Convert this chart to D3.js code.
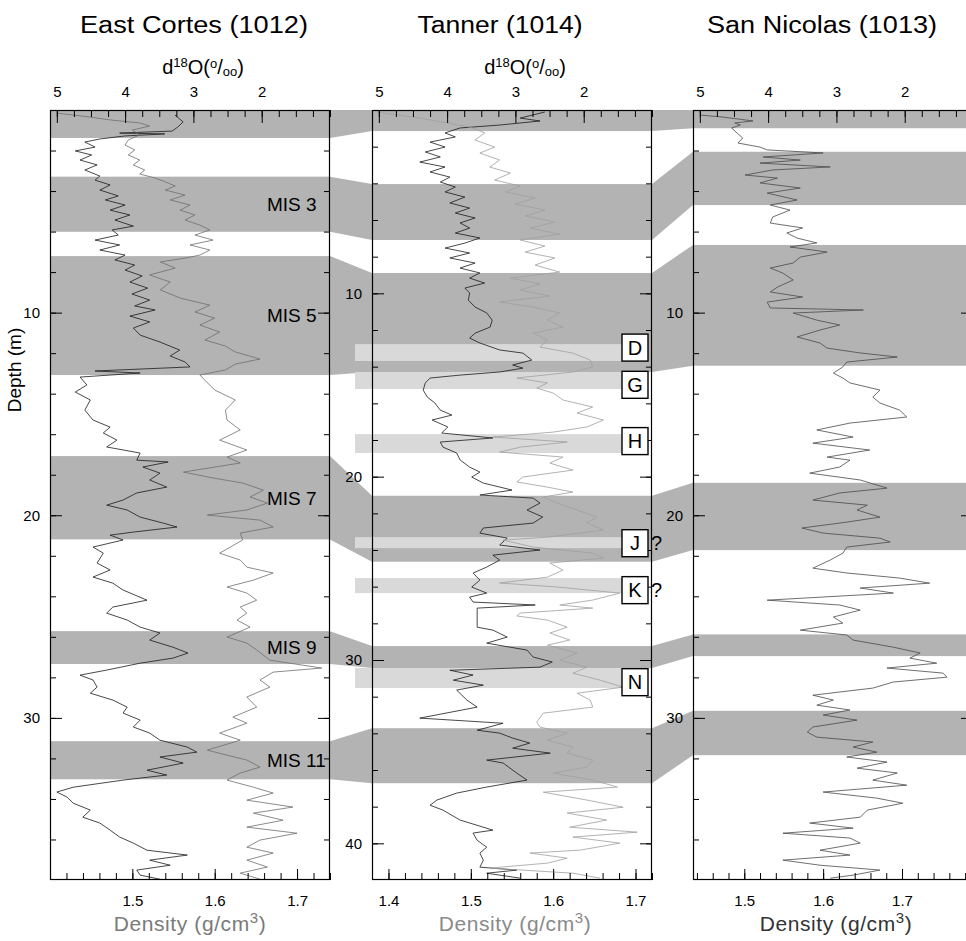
<!DOCTYPE html>
<html>
<head>
<meta charset="utf-8">
<script src="https://cdn.jsdelivr.net/npm/d3@7"></script>
<style>
  body { margin: 0; background: #fff; }
  svg { display: block; }
  text { font-family: "Liberation Sans", Arial, sans-serif; }
</style>
</head>
<body>
<svg id="chart" width="966" height="941"></svg>
<script>
// ---- data ----
const titles = ['East Cortes (1012)', 'Tanner (1014)', 'San Nicolas (1013)'];
const o18Ticks = [5, 4, 3, 2];
const ecDensityTicks = [1.5, 1.6, 1.7];
const tnDensityTicks = [1.4, 1.5, 1.6, 1.7];
const snDensityTicks = [1.5, 1.6, 1.7];
const ecDepthTicks = [10, 20, 30];
const tnDepthTicks = [10, 20, 30, 40];
const snDepthTicks = [10, 20, 30];

// shaded stage intervals, depth (m) top/bottom
const ecBands = [[0, 1.38], [3.29, 6.01], [7.21, 13.08], [17.08, 21.19], [25.72, 27.34], [31.15, 33.03]];
const tnBands = [[0, 1.15], [4.04, 7.09], [8.89, 14.29], [21.04, 24.64], [29.24, 30.44], [33.72, 36.72]];
const snBands = [[0, 0.90], [2.06, 4.69], [6.66, 12.62], [18.40, 21.72], [25.88, 26.95], [29.65, 31.84]];
const misLabels = ['', 'MIS 3', 'MIS 5', 'MIS 7', 'MIS 9', 'MIS 11'];

// Tanner event layers
const eventNames = ['D', 'G', 'H', 'J', 'K', 'N'];
const eventBands = [[12.77, 13.69], [14.29, 15.22], [17.68, 18.71], [23.30, 23.90], [25.53, 26.35], [30.44, 31.53]];
const eventLabelDepth = [12.96, 14.99, 18.06, 23.63, 26.19, 31.21];
const eventQuery = ['', '', '', '?', '?', ''];

// [depth m, d18O permil]
const ecO18 = [[0.25,3.27],[0.59,3.15],[0.84,3.23],[1.04,3.31],[1.14,4.08],[1.18,3.42],[1.28,4.00],[1.43,4.37],[1.58,4.59],[1.83,4.44],[2.02,4.73],[2.22,4.49],[2.47,4.66],[2.71,4.41],[2.96,4.59],[3.26,4.37],[3.46,4.44],[3.70,4.22],[3.95,4.37],[4.24,4.10],[4.44,4.29],[4.69,4.00],[4.94,4.22],[5.18,3.93],[5.43,4.15],[5.73,3.88],[5.92,4.19],[6.17,4.10],[6.42,4.44],[6.66,4.08],[6.91,4.37],[7.16,4.00],[7.40,4.15],[7.65,3.86],[7.90,4.00],[8.19,3.75],[8.49,3.93],[8.79,3.67],[9.08,3.90],[9.38,3.64],[9.67,3.86],[9.87,3.56],[10.17,3.93],[10.46,3.64],[10.76,3.88],[11.11,3.78],[11.45,3.49],[11.85,3.20],[12.14,3.34],[12.44,3.12],[12.68,3.05],[12.88,4.44],[12.98,3.78],[13.18,4.66],[13.57,4.56],[13.92,4.73],[14.31,4.51],[14.81,4.59],[15.30,4.47],[15.65,4.22],[15.94,4.32],[16.29,4.12],[16.63,4.27],[16.93,3.78],[17.28,3.83],[17.37,3.37],[17.62,3.74],[17.92,3.49],[18.26,3.64],[18.61,3.39],[18.90,3.83],[19.25,4.03],[19.50,4.27],[19.74,3.97],[20.09,3.78],[20.38,3.45],[20.58,3.24],[20.83,3.88],[20.98,4.22],[21.22,4.03],[21.57,4.47],[21.87,4.32],[22.36,4.41],[22.70,4.22],[23.05,4.47],[23.35,4.18],[23.69,4.03],[24.19,3.68],[24.53,4.18],[24.83,4.27],[25.17,3.97],[25.52,3.78],[25.81,3.49],[26.16,3.64],[26.51,3.30],[26.80,3.08],[27.05,3.30],[27.30,3.78],[27.64,4.27],[27.89,4.66],[28.13,4.47],[28.48,4.41],[28.78,4.51],[29.12,4.18],[29.47,3.97],[29.76,4.03],[30.11,3.78],[30.45,3.88],[30.75,3.64],[31.10,3.49],[31.44,3.09],[31.69,2.95],[31.93,3.49],[32.23,3.15],[32.58,3.68],[32.82,3.39],[33.07,4.03],[33.42,4.76],[33.66,5.00],[33.91,4.85],[34.21,4.76],[34.55,4.51],[34.90,4.62],[35.19,4.37],[35.54,4.22],[35.88,4.08],[36.18,3.88],[36.53,3.68],[36.77,3.09],[37.02,3.64],[37.27,3.34],[37.51,3.83],[37.76,3.78],[37.96,3.49]];

// [depth m, density g/cm3]
const ecDensity = [[0.15,1.408],[0.35,1.449],[0.49,1.473],[0.64,1.509],[0.79,1.521],[0.99,1.500],[1.23,1.509],[1.48,1.495],[1.73,1.491],[1.97,1.503],[2.22,1.495],[2.47,1.509],[2.71,1.501],[2.96,1.515],[3.16,1.509],[3.36,1.528],[3.55,1.540],[3.75,1.552],[3.95,1.540],[4.20,1.564],[4.44,1.546],[4.69,1.570],[4.94,1.558],[5.18,1.576],[5.43,1.564],[5.68,1.582],[5.92,1.594],[6.17,1.576],[6.42,1.598],[6.66,1.570],[6.91,1.594],[7.16,1.582],[7.31,1.564],[7.50,1.534],[7.80,1.552],[8.14,1.521],[8.49,1.546],[8.88,1.534],[9.28,1.558],[9.63,1.594],[9.97,1.576],[10.27,1.600],[10.61,1.582],[10.96,1.606],[11.35,1.588],[11.65,1.613],[11.94,1.625],[12.29,1.655],[12.54,1.625],[12.83,1.613],[13.08,1.582],[13.33,1.588],[13.82,1.600],[14.31,1.625],[14.81,1.613],[15.30,1.615],[15.79,1.631],[16.29,1.606],[16.78,1.639],[17.13,1.615],[17.42,1.631],[17.87,1.562],[18.16,1.598],[18.41,1.634],[18.76,1.659],[19.10,1.643],[19.40,1.664],[19.74,1.639],[19.99,1.591],[20.24,1.655],[20.58,1.671],[20.88,1.631],[21.22,1.634],[21.57,1.619],[21.87,1.606],[22.21,1.631],[22.56,1.639],[22.85,1.671],[23.20,1.647],[23.54,1.615],[23.84,1.639],[24.19,1.651],[24.53,1.631],[24.83,1.639],[25.17,1.627],[25.52,1.643],[26.01,1.615],[26.31,1.639],[26.65,1.651],[27.15,1.667],[27.54,1.730],[27.74,1.671],[28.13,1.655],[28.48,1.667],[28.97,1.639],[29.47,1.651],[29.96,1.622],[30.26,1.639],[30.75,1.606],[31.10,1.631],[31.59,1.591],[31.84,1.615],[32.08,1.639],[32.43,1.655],[32.72,1.631],[33.07,1.615],[33.42,1.647],[33.71,1.671],[34.06,1.639],[34.40,1.695],[34.70,1.647],[35.05,1.683],[35.39,1.639],[35.69,1.700],[36.03,1.655],[36.38,1.639],[36.67,1.671],[37.02,1.639],[37.36,1.664],[37.66,1.631],[37.96,1.655]];

const tnO18 = [[0.11,2.57],[0.44,2.93],[0.60,2.64],[0.82,3.23],[0.98,3.81],[1.25,4.03],[1.47,3.88],[1.75,4.25],[2.02,4.03],[2.29,4.32],[2.56,4.10],[2.84,4.40],[3.11,4.03],[3.38,4.25],[3.66,3.96],[3.93,4.10],[4.20,3.88],[4.47,4.03],[4.75,3.74],[5.07,3.96],[5.35,3.67],[5.62,3.88],[5.89,3.59],[6.16,3.81],[6.44,3.67],[6.71,3.88],[6.98,3.52],[7.26,3.74],[7.53,4.03],[7.80,3.67],[8.07,3.96],[8.35,3.59],[8.62,3.81],[8.89,3.52],[9.17,3.67],[9.44,3.45],[9.71,3.74],[9.98,3.67],[10.37,3.69],[10.75,3.59],[11.07,3.42],[11.46,3.34],[11.84,3.37],[12.17,3.59],[12.44,3.67],[12.71,3.52],[13.09,3.23],[13.26,2.89],[13.64,2.76],[13.91,3.04],[14.08,2.89],[14.29,3.23],[14.46,3.81],[14.62,4.25],[14.89,4.32],[15.28,4.35],[15.66,4.29],[15.98,4.18],[16.37,4.10],[16.64,3.93],[16.91,4.22],[17.29,3.99],[17.62,4.08],[17.89,3.33],[18.11,4.10],[18.39,4.06],[18.71,3.86],[19.09,3.81],[19.48,3.67],[19.75,3.52],[20.02,3.64],[20.35,3.47],[20.73,3.05],[21.00,3.52],[21.17,2.74],[21.44,2.64],[21.82,2.83],[22.20,2.60],[22.53,2.74],[22.80,3.47],[23.08,3.52],[23.35,3.12],[23.73,3.23],[24.00,2.64],[24.28,3.33],[24.55,3.23],[24.93,3.42],[25.26,3.62],[25.64,3.52],[26.02,3.64],[26.35,3.42],[26.57,3.67],[26.84,3.62],[27.00,2.71],[27.17,3.56],[28.21,3.56],[28.37,3.33],[28.75,3.12],[29.08,3.42],[29.46,2.83],[29.84,2.74],[30.11,2.46],[30.39,2.64],[30.56,3.96],[30.82,3.62],[31.10,3.91],[31.37,3.47],[31.64,3.86],[32.19,3.71],[32.57,3.56],[33.17,4.40],[33.45,3.18],[33.83,3.56],[33.99,3.23],[34.26,3.04],[34.53,2.79],[34.81,3.04],[35.08,2.49],[35.46,3.42],[35.62,3.18],[36.17,2.98],[36.55,2.83],[36.93,3.42],[37.26,3.86],[37.64,4.15],[37.92,4.25],[38.19,4.06],[38.73,3.81],[39.28,3.33],[39.44,3.62],[39.83,3.56],[40.21,3.42],[40.53,3.52],[40.92,3.47],[41.30,3.52],[41.46,2.98],[41.63,3.42],[41.90,2.93]];

const tnDensity = [[0.11,1.386],[0.44,1.438],[0.93,1.499],[1.25,1.517],[1.64,1.505],[2.02,1.529],[2.35,1.511],[2.73,1.535],[3.11,1.523],[3.44,1.548],[3.82,1.529],[4.15,1.560],[4.47,1.542],[4.80,1.578],[5.13,1.554],[5.46,1.590],[5.78,1.566],[6.11,1.602],[6.44,1.572],[6.77,1.608],[7.09,1.560],[7.42,1.590],[7.75,1.566],[8.07,1.602],[8.46,1.578],[8.84,1.608],[9.17,1.548],[9.49,1.584],[9.82,1.560],[10.15,1.596],[10.47,1.535],[10.75,1.576],[11.07,1.608],[11.46,1.593],[11.84,1.612],[12.17,1.576],[12.55,1.593],[12.93,1.584],[13.26,1.624],[13.64,1.645],[14.02,1.648],[14.29,1.624],[14.62,1.556],[14.89,1.593],[15.17,1.580],[15.44,1.600],[15.82,1.612],[16.20,1.648],[16.53,1.629],[16.91,1.661],[17.29,1.641],[17.57,1.600],[17.84,1.527],[18.11,1.617],[18.39,1.560],[18.66,1.535],[18.93,1.612],[19.26,1.596],[19.64,1.624],[20.02,1.563],[20.29,1.556],[20.57,1.593],[20.84,1.624],[21.11,1.588],[21.44,1.605],[21.82,1.629],[22.20,1.653],[22.53,1.641],[22.91,1.661],[23.30,1.593],[23.46,1.539],[23.84,1.576],[24.17,1.648],[24.44,1.661],[24.71,1.596],[25.10,1.612],[25.48,1.593],[25.80,1.535],[26.02,1.605],[26.35,1.681],[26.73,1.648],[27.00,1.608],[27.17,1.648],[27.44,1.560],[27.60,1.556],[27.82,1.593],[28.21,1.617],[28.53,1.596],[28.91,1.620],[29.19,1.593],[29.62,1.629],[30.01,1.608],[30.39,1.641],[30.72,1.624],[31.10,1.657],[31.48,1.685],[31.81,1.629],[32.19,1.645],[32.57,1.648],[32.90,1.588],[33.39,1.580],[33.66,1.584],[33.99,1.617],[34.37,1.593],[34.75,1.624],[35.08,1.617],[35.46,1.648],[35.84,1.641],[36.17,1.600],[36.55,1.648],[36.93,1.678],[37.21,1.588],[37.64,1.641],[38.03,1.685],[38.35,1.617],[38.73,1.665],[39.12,1.620],[39.39,1.702],[39.66,1.624],[39.99,1.681],[40.37,1.633],[40.53,1.572],[40.81,1.617],[41.08,1.593],[41.35,1.523],[41.63,1.624],[41.90,1.657]];

const snDensity = [[0.25,1.444],[0.35,1.473],[0.54,1.511],[0.64,1.488],[0.74,1.495],[0.89,1.484],[1.14,1.491],[1.38,1.498],[1.63,1.492],[1.83,1.520],[1.97,1.529],[2.12,1.600],[2.32,1.524],[2.47,1.571],[2.62,1.520],[2.81,1.609],[2.96,1.536],[3.21,1.501],[3.36,1.542],[3.60,1.520],[3.85,1.571],[4.10,1.529],[4.44,1.567],[4.69,1.533],[4.94,1.558],[5.28,1.536],[5.58,1.533],[5.82,1.574],[6.07,1.554],[6.32,1.567],[6.56,1.592],[6.76,1.558],[7.01,1.605],[7.26,1.571],[7.55,1.562],[7.80,1.533],[8.05,1.549],[8.39,1.562],[8.74,1.542],[8.98,1.533],[9.23,1.574],[9.48,1.529],[9.77,1.533],[9.87,1.651],[10.02,1.562],[10.37,1.592],[10.61,1.621],[10.86,1.596],[11.20,1.567],[11.50,1.596],[11.75,1.605],[11.99,1.647],[12.19,1.694],[12.44,1.630],[12.68,1.625],[12.98,1.613],[13.23,1.625],[13.47,1.634],[13.82,1.672],[14.17,1.663],[14.46,1.672],[14.81,1.697],[15.15,1.706],[15.45,1.634],[15.79,1.592],[16.14,1.638],[16.44,1.587],[16.78,1.659],[17.13,1.605],[17.28,1.634],[17.62,1.621],[17.92,1.583],[18.26,1.647],[18.66,1.681],[18.90,1.621],[19.25,1.587],[19.50,1.656],[19.74,1.643],[20.09,1.672],[20.34,1.630],[20.63,1.573],[20.88,1.600],[21.13,1.672],[21.32,1.685],[21.57,1.630],[21.87,1.625],[22.21,1.609],[22.61,1.587],[22.85,1.630],[23.10,1.697],[23.35,1.735],[23.59,1.647],[23.84,1.689],[24.19,1.529],[24.43,1.621],[24.68,1.647],[25.02,1.613],[25.32,1.625],[25.67,1.571],[25.91,1.630],[26.16,1.638],[26.51,1.689],[26.80,1.723],[27.05,1.710],[27.30,1.744],[27.54,1.681],[27.79,1.752],[27.99,1.757],[28.23,1.689],[28.53,1.663],[28.88,1.587],[29.12,1.613],[29.37,1.592],[29.61,1.634],[29.86,1.600],[30.11,1.643],[30.45,1.587],[30.70,1.580],[30.95,1.592],[31.19,1.663],[31.44,1.638],[31.69,1.668],[31.93,1.630],[32.18,1.681],[32.48,1.643],[32.72,1.694],[33.07,1.663],[33.32,1.706],[33.66,1.600],[33.96,1.668],[34.21,1.701],[34.55,1.656],[34.90,1.647],[35.19,1.583],[35.44,1.638],[35.69,1.549],[35.93,1.634],[36.18,1.647],[36.53,1.596],[36.77,1.634],[37.02,1.549],[37.27,1.596],[37.51,1.672],[37.76,1.638],[37.91,1.609]];

// ---- layout ----
var svg = d3.select('#chart');
var plotTop = 110, plotBottom = 880, pw = 280;
var bandColor = '#b3b3b3', eventColor = '#d9d9d9';

var panels = [
  { x0: 50, depthMax: 38, denDomain: [1.4, 1.74], denTicks: ecDensityTicks, depthTicks: ecDepthTicks,
    bands: ecBands, o18: ecO18, den: ecDensity, o18Color: '#1a1a1a', denColor: '#6e6e6e',
    titleX: 194, titleW: 228, labelColor: '#7a7a7a', showO18Label: true, denLabelX: 190 },
  { x0: 372, depthMax: 42, denDomain: [1.38, 1.72], denTicks: tnDensityTicks, depthTicks: tnDepthTicks,
    bands: tnBands, o18: tnO18, den: tnDensity, o18Color: '#1a1a1a', denColor: '#a0a0a0',
    titleX: 500, titleW: 165, labelColor: '#8a8a8a', showO18Label: true, denLabelX: 515 },
  { x0: 693, depthMax: 38, denDomain: [1.435, 1.79], denTicks: snDensityTicks, depthTicks: snDepthTicks,
    bands: snBands, o18: null, den: snDensity, o18Color: '#1a1a1a', denColor: '#4a4a4a',
    titleX: 822, titleW: 230, labelColor: '#333', showO18Label: false, denLabelX: 836 }
];

panels.forEach(function(p) {
  p.y = d3.scaleLinear().domain([0, p.depthMax]).range([plotTop, plotBottom]);
  p.xo = d3.scaleLinear().domain([5.1, 1.0]).range([p.x0, p.x0 + pw]);
  p.xd = d3.scaleLinear().domain(p.denDomain).range([p.x0, p.x0 + pw]);
});

// connectors between neighbouring cores
function connect(pa, pb) {
  pa.bands.forEach(function(b, i) {
    var c = pb.bands[i];
    var pts = [[pa.x0 + pw, pa.y(b[0])], [pb.x0, pb.y(c[0])], [pb.x0, pb.y(c[1])], [pa.x0 + pw, pa.y(b[1])]];
    svg.append('path').attr('d', d3.line()(pts) + 'Z').attr('fill', bandColor);
  });
}
connect(panels[0], panels[1]);
connect(panels[1], panels[2]);

// shaded bands inside each panel
panels.forEach(function(p) {
  svg.append('g').selectAll('rect').data(p.bands).enter().append('rect')
    .attr('x', p.x0).attr('width', pw)
    .attr('y', function(d) { return p.y(d[0]); })
    .attr('height', function(d) { return p.y(d[1]) - p.y(d[0]); })
    .attr('fill', bandColor);
});

// Tanner event layers (lighter)
var tn = panels[1];
svg.append('g').selectAll('rect').data(eventBands).enter().append('rect')
  .attr('x', tn.x0 - 17).attr('width', 267)
  .attr('y', function(d) { return tn.y(d[0]); })
  .attr('height', function(d) { return tn.y(d[1]) - tn.y(d[0]); })
  .attr('fill', eventColor);

// curves
panels.forEach(function(p, i) {
  svg.append('clipPath').attr('id', 'clip' + i).append('rect')
    .attr('x', p.x0).attr('y', plotTop).attr('width', pw).attr('height', plotBottom - plotTop);
  var g = svg.append('g').attr('clip-path', 'url(#clip' + i + ')');
  if (p.o18) {
    g.append('path').datum(p.o18)
      .attr('d', d3.line().x(function(d) { return p.xo(d[1]); }).y(function(d) { return p.y(d[0]); }))
      .attr('fill', 'none').attr('stroke', p.o18Color).attr('stroke-width', 0.8);
  }
  g.append('path').datum(p.den)
    .attr('d', d3.line().x(function(d) { return p.xd(d[1]); }).y(function(d) { return p.y(d[0]); }))
    .attr('fill', 'none').attr('stroke', p.denColor).attr('stroke-width', 0.8);
});

function styleAxis(sel) {
  sel.select('.domain').remove();
  sel.selectAll('line').attr('stroke', '#000');
  sel.selectAll('text').attr('fill', '#000').style('font-size', '15px')
    .style('font-family', '"Liberation Sans", Arial, sans-serif');
}

// frames and axes
panels.forEach(function(p, i) {
  var g = svg.append('g');
  var x1 = p.x0 + pw;
  var minorO18 = d3.range(1.0, 5.01, 0.25);
  var minorDen = d3.range(Math.ceil(p.denDomain[0] * 50) / 50, p.denDomain[1], 0.02);
  var minorDepth = d3.range(2, p.depthMax, 2);

  g.append('g').attr('transform', 'translate(0,' + plotTop + ')')
    .call(d3.axisTop(p.xo).tickValues(minorO18).tickSize(-7).tickFormat(''))
    .call(styleAxis);
  g.append('g').attr('transform', 'translate(0,' + plotTop + ')')
    .call(d3.axisTop(p.xo).tickValues(o18Ticks).tickSize(-13).tickPadding(13).tickFormat(d3.format('d')))
    .call(styleAxis);

  g.append('g').attr('transform', 'translate(0,' + plotBottom + ')')
    .call(d3.axisBottom(p.xd).tickValues(minorDen).tickSize(-7).tickFormat(''))
    .call(styleAxis);
  g.append('g').attr('transform', 'translate(0,' + plotBottom + ')')
    .call(d3.axisBottom(p.xd).tickValues(p.denTicks).tickSize(-11).tickPadding(15).tickFormat(d3.format('.1f')))
    .call(styleAxis);

  g.append('g').attr('transform', 'translate(' + p.x0 + ',0)')
    .call(d3.axisLeft(p.y).tickValues(minorDepth).tickSize(-6).tickFormat(''))
    .call(styleAxis);
  g.append('g').attr('transform', 'translate(' + p.x0 + ',0)')
    .call(d3.axisLeft(p.y).tickValues(p.depthTicks).tickSize(-12).tickPadding(10).tickFormat(d3.format('d')))
    .call(styleAxis);
  g.append('g').attr('transform', 'translate(' + x1 + ',0)')
    .call(d3.axisRight(p.y).tickValues(minorDepth).tickSize(-6).tickFormat(''))
    .call(styleAxis);
  g.append('g').attr('transform', 'translate(' + x1 + ',0)')
    .call(d3.axisRight(p.y).tickValues(p.depthTicks).tickSize(-12).tickFormat(''))
    .call(styleAxis);

  g.append('rect').attr('x', p.x0 + 0.5).attr('y', plotTop + 0.5)
    .attr('width', pw - 1).attr('height', plotBottom - plotTop - 1)
    .attr('fill', 'none').attr('stroke', '#000').attr('stroke-width', 1.2);

  // title
  svg.append('text').attr('x', p.titleX).attr('y', 33).attr('text-anchor', 'middle')
    .attr('textLength', p.titleW).attr('lengthAdjust', 'spacingAndGlyphs')
    .style('font-size', '23px').attr('fill', '#000').text(titles[i]);

  // d18O axis title
  if (p.showO18Label) {
    var t = svg.append('text').attr('x', p.x0 + 153).attr('y', 74).attr('text-anchor', 'middle')
      .style('font-size', '20px').attr('fill', '#000');
    t.append('tspan').text('d');
    t.append('tspan').attr('dy', -7).style('font-size', '13px').text('18');
    t.append('tspan').attr('dy', 7).text('O(');
    t.append('tspan').attr('dy', -6).style('font-size', '13px').text('o');
    t.append('tspan').attr('dy', 6).text('/');
    t.append('tspan').attr('dy', 2).style('font-size', '13px').text('oo');
    t.append('tspan').attr('dy', -2).text(')');
  }

  // density axis title
  var dt = svg.append('text').attr('x', p.denLabelX).attr('y', 931).attr('text-anchor', 'middle')
    .style('font-size', '21px').style('letter-spacing', '0.6px').attr('fill', p.labelColor);
  dt.append('tspan').text('Density (g/cm');
  dt.append('tspan').attr('dy', -8).style('font-size', '15px').text('3');
  dt.append('tspan').attr('dy', 8).text(')');
});

// depth label
svg.append('text').attr('transform', 'translate(21,370) rotate(-90)')
  .attr('text-anchor', 'middle')
  .style('font-size', '19px').attr('fill', '#000').text('Depth (m)');

// MIS labels in East Cortes
var ec = panels[0];
svg.append('g').selectAll('text').data(ecBands).enter().append('text')
  .attr('x', 267)
  .attr('y', function(d) { return ec.y((d[0] + d[1]) / 2); })
  .attr('dy', '0.36em').style('font-size', '19px').attr('fill', '#000')
  .text(function(d, i) { return misLabels[i]; });

// event boxes on Tanner
var boxes = svg.append('g').selectAll('g').data(eventNames).enter().append('g')
  .attr('transform', function(d, i) { return 'translate(' + (tn.x0 + 250) + ',' + tn.y(eventLabelDepth[i]) + ')'; });
boxes.append('rect').attr('x', 0).attr('y', -13.5).attr('width', 26).attr('height', 27)
  .attr('fill', '#fff').attr('stroke', '#000').attr('stroke-width', 1.4);
boxes.append('text').attr('x', 13).attr('y', 0).attr('dy', '0.36em').attr('text-anchor', 'middle')
  .style('font-size', '20px').attr('fill', '#000').text(function(d) { return d; });
boxes.append('text').attr('x', 29).attr('y', 0).attr('dy', '0.36em')
  .style('font-size', '20px').attr('fill', '#000').text(function(d, i) { return eventQuery[i]; });
</script>
</body>
</html>
